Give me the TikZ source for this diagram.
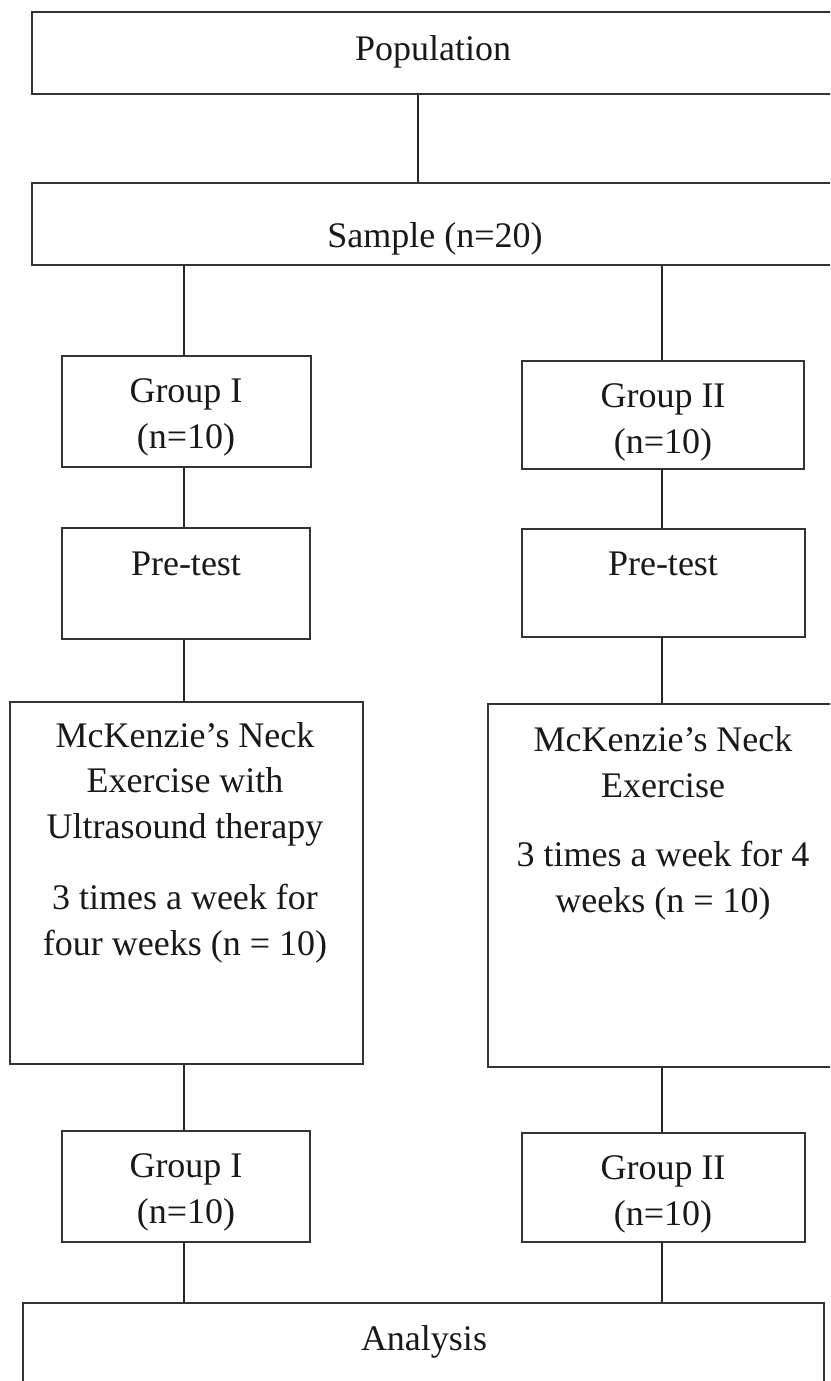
\documentclass[tikz,border=0pt]{standalone}
\usepackage{fontspec}
\setmainfont{Liberation Serif}
\begin{document}
\begin{tikzpicture}[x=1pt,y=-1pt,
  box/.style={draw=black!80,line width=2.6pt,rectangle,inner sep=0pt,fill=none},
  lbl/.style={anchor=base,align=center,inner sep=0pt,font=\fontsize{36}{45.5}\selectfont,text=black!90},
  conn/.style={draw=black!85,line width=1.1pt}]
\useasboundingbox (0,0) rectangle (830,1381);
\clip (0,0) rectangle (830,1381);
% boxes (centre, width, height from pixel corners)
\node[box,minimum width=818pt,minimum height=82pt] (pop) at (441,53) {};
\node[box,minimum width=818pt,minimum height=82pt] (sample) at (441,224) {};
\node[box,minimum width=249pt,minimum height=111pt] (g1a) at (186.5,411.5) {};
\node[box,minimum width=282pt,minimum height=108pt] (g2a) at (663,415) {};
\node[box,minimum width=248pt,minimum height=111pt] (pre1) at (186,583.5) {};
\node[box,minimum width=283pt,minimum height=108pt] (pre2) at (663.5,583) {};
\node[box,minimum width=353pt,minimum height=362pt] (mck1) at (186.5,883) {};
\node[box,minimum width=362pt,minimum height=363pt] (mck2) at (669,885.5) {};
\node[box,minimum width=248pt,minimum height=111pt] (g1b) at (186,1186.5) {};
\node[box,minimum width=283pt,minimum height=109pt] (g2b) at (663.5,1187.5) {};
\node[box,minimum width=801pt,minimum height=117pt] (ana) at (423.5,1361.5) {};
% texts (anchor = baseline of the last line)
\node[lbl] (tpop) at (433,60) {Population};
\node[lbl] (tsample) at (435,247) {Sample (n=20)};
\node[lbl] (tg1a) at (186,448) {Group I\\(n=10)};
\node[lbl] (tg2a) at (663,453) {Group II\\(n=10)};
\node[lbl] (tpre1) at (186,575) {Pre-test};
\node[lbl] (tpre2) at (663,575) {Pre-test};
\node[lbl] (tmck1) at (185,955) {McKenzie’s Neck\\Exercise with\\Ultrasound therapy\\[26pt]3 times a week for\\four weeks (n = 10)};
\node[lbl] (tmck2) at (663,912) {McKenzie’s Neck\\Exercise\\[24pt]3 times a week for 4\\weeks (n = 10)};
\node[lbl] (tg1b) at (186,1223) {Group I\\(n=10)};
\node[lbl] (tg2b) at (663,1225) {Group II\\(n=10)};
\node[lbl] (tana) at (424,1350) {Analysis};
% connector columns
\coordinate (cmid) at (418,0);
\coordinate (cL) at (184,0);
\coordinate (cR) at (662,0);
\draw[conn] (pop.south -| cmid) -- (sample.north -| cmid);
\draw[conn] (sample.south -| cL) -- (g1a.north -| cL);
\draw[conn] (sample.south -| cR) -- (g2a.north -| cR);
\draw[conn] (g1a.south -| cL) -- (pre1.north -| cL);
\draw[conn] (g2a.south -| cR) -- (pre2.north -| cR);
\draw[conn] (pre1.south -| cL) -- (mck1.north -| cL);
\draw[conn] (pre2.south -| cR) -- (mck2.north -| cR);
\draw[conn] (mck1.south -| cL) -- (g1b.north -| cL);
\draw[conn] (mck2.south -| cR) -- (g2b.north -| cR);
\draw[conn] (g1b.south -| cL) -- (ana.north -| cL);
\draw[conn] (g2b.south -| cR) -- (ana.north -| cR);
\end{tikzpicture}
\end{document}
